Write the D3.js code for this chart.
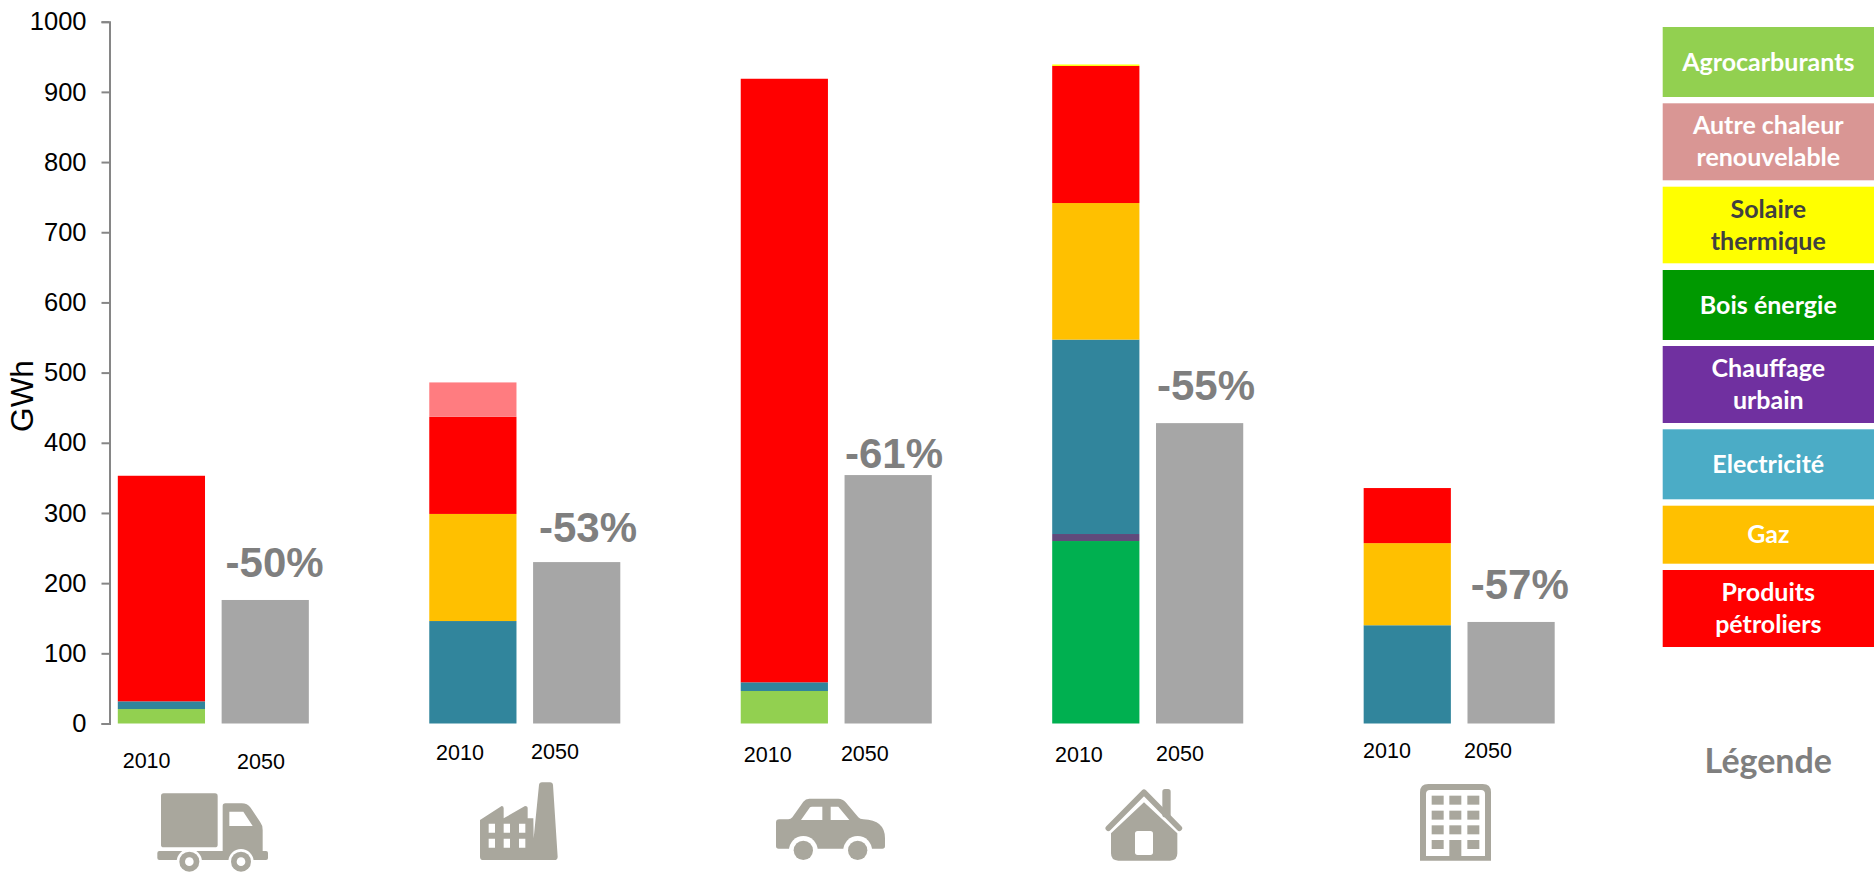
<!DOCTYPE html>
<html lang="fr">
<head>
<meta charset="utf-8">
<title>Consommation d'énergie par secteur, 2010 et 2050</title>
<script src="https://cdn.jsdelivr.net/npm/d3@7"></script>
<style>
  html, body { margin: 0; background: #fff; }
  svg { display: block; }
  text { font-family: "Liberation Sans", Arial, sans-serif; }
  .legend-label { font-family: Lato, sans-serif; font-weight: 700; }
</style>
</head>
<body>
<div id="grafico"></div>
<script>
const sectors = ['truck', 'factory', 'car', 'house', 'office'];

// 2010 values per energy, GWh, one entry per sector
const agrocarburants = [20.6, 0, 46.3, 0, 0];
const boisEnergie    = [0, 0, 0, 260, 0];
const chauffage      = [0, 0, 0, 10, 0];
const electricite    = [11, 146, 12.4, 277, 140];
const gaz            = [0, 152.6, 0, 194.6, 117];
const petrole        = [321.4, 138.4, 860, 195.4, 78.5];
const autreChaleur   = [0, 49, 0, 0, 0];
const solaire        = [0, 0, 0, 2, 0];

const total2050 = [176, 230, 354, 428, 144.7];
const reductions = ['-50%', '-53%', '-61%', '-55%', '-57%'];
const yearLabels = ['2010', '2050'];

const legendNames = [
  ['Agrocarburants'],
  ['Autre chaleur', 'renouvelable'],
  ['Solaire', 'thermique'],
  ['Bois énergie'],
  ['Chauffage', 'urbain'],
  ['Electricité'],
  ['Gaz'],
  ['Produits', 'pétroliers']
];
const legendFill = ['#92D050', '#D99694', '#FFFF00', '#009900', '#7030A0', '#4BACC6', '#FFC000', '#FF0000'];
const legendText = ['#fff', '#fff', '#404040', '#fff', '#fff', '#fff', '#fff', '#fff'];
const legendTop    = [27, 103.3, 186.7, 270, 346, 429.3, 505.7, 570];
const legendBottom = [97, 180.3, 263.3, 340, 423, 499.3, 563.7, 647];

// stacking order, bottom to top
const energies = ['agro', 'bois', 'chauffage', 'elec', 'gaz', 'petrole', 'autre', 'solaire'];
const energyValues = {
  agro: agrocarburants, bois: boisEnergie, chauffage: chauffage, elec: electricite,
  gaz: gaz, petrole: petrole, autre: autreChaleur, solaire: solaire
};
const energyColor = d3.scaleOrdinal()
  .domain(energies)
  .range(['#92D050', '#00B050', '#604A7B', '#31859C', '#FFC000', '#FF0000', '#FF7C80', '#FFFF00']);

// hand placed labels, they do not sit on a regular grid in the original
const yearPos = [
  [[146.6, 768], [261, 769]],
  [[460, 760], [555, 759]],
  [[767.7, 762], [864.8, 761]],
  [[1078.9, 762], [1180, 761]],
  [[1387, 758], [1488, 758]]
];
const reductionPos = [[274.6, 577], [588, 542], [894, 468], [1206, 400], [1519.8, 599]];

const width = 1874;
const height = 875;

const svg = d3.select("#grafico")
              .append("svg")
              .attr("width", width)
              .attr("height", height);

// each sector takes three slots: 2010, 2050 and an empty one
const slots = sectors.flatMap(s => [`${s}-2010`, `${s}-2050`, `${s}-gap`]).slice(0, -1);

const xScale = d3.scaleBand()
                 .domain(slots)
                 .range([109.5, 1563])
                 .paddingInner(0.16)
                 .paddingOuter(0.08);

const yScale = d3.scaleLinear()
                 .domain([0, 1000])
                 .range([723.5, 21.7]);

const yAxisCall = d3.axisLeft(yScale)
                    .tickValues(d3.range(0, 1001, 100))
                    .tickFormat(d3.format("d"))
                    .tickSize(8)
                    .tickPadding(15);

const yAxis = svg.append("g")
                 .attr("transform", "translate(109.5, 0)")
                 .call(yAxisCall);

yAxis.selectAll("path, line")
     .attr("stroke", "#868686")
     .attr("stroke-width", 2);

yAxis.selectAll("text")
     .attr("fill", "#000")
     .style("font-size", "25.5px");

svg.append("text")
   .attr("transform", "translate(33, 396) rotate(-90)")
   .attr("text-anchor", "middle")
   .style("font-size", "31.5px")
   .text("GWh");

const rows = sectors.map((s, i) => {
  const row = { sector: s };
  energies.forEach(e => { row[e] = energyValues[e][i]; });
  return row;
});

const stacked = d3.stack().keys(energies)(rows);

svg.append("g")
   .selectAll("g")
   .data(stacked)
   .join("g")
   .attr("fill", d => energyColor(d.key))
   .selectAll("rect")
   .data(d => d.filter(p => p[1] > p[0]))
   .join("rect")
   .attr("x", d => xScale(`${d.data.sector}-2010`))
   .attr("y", d => yScale(d[1]))
   .attr("width", xScale.bandwidth())
   .attr("height", d => yScale(d[0]) - yScale(d[1]));

svg.append("g")
   .selectAll("rect")
   .data(total2050)
   .join("rect")
   .attr("x", (d, i) => xScale(`${sectors[i]}-2050`))
   .attr("y", d => yScale(d))
   .attr("width", xScale.bandwidth())
   .attr("height", d => yScale(0) - yScale(d))
   .attr("fill", "#A6A6A6");

svg.append("g")
   .selectAll("text")
   .data(reductions)
   .join("text")
   .attr("x", (d, i) => reductionPos[i][0])
   .attr("y", (d, i) => reductionPos[i][1])
   .attr("text-anchor", "middle")
   .attr("fill", "#7F7F7F")
   .style("font-size", "42px")
   .style("font-weight", "bold")
   .text(d => d);

const yearGroups = svg.append("g")
                      .selectAll("g")
                      .data(yearPos)
                      .join("g");

yearGroups.selectAll("text")
          .data(d => d)
          .join("text")
          .attr("x", d => d[0])
          .attr("y", d => d[1])
          .attr("text-anchor", "middle")
          .style("font-size", "21.5px")
          .text((d, i) => yearLabels[i]);

// legend
const legend = svg.append("g")
                  .selectAll("g")
                  .data(legendNames)
                  .join("g");

legend.append("rect")
      .attr("x", 1662.7)
      .attr("y", (d, i) => legendTop[i])
      .attr("width", width - 1662.7)
      .attr("height", (d, i) => legendBottom[i] - legendTop[i])
      .attr("fill", (d, i) => legendFill[i]);

legend.each(function(lines, i) {
  const mid = (legendTop[i] + legendBottom[i]) / 2;
  d3.select(this)
    .selectAll("text")
    .data(lines)
    .join("text")
    .attr("class", "legend-label")
    .attr("x", 1768.3)
    .attr("y", (l, j) => mid + 8.5 + (j - (lines.length - 1) / 2) * 32)
    .attr("text-anchor", "middle")
    .attr("fill", legendText[i])
    .style("font-size", "25px")
    .text(l => l);
});

svg.append("text")
   .attr("class", "legend-label")
   .attr("x", 1768.3)
   .attr("y", 773)
   .attr("text-anchor", "middle")
   .attr("fill", "#7F7F7F")
   .style("font-size", "34px")
   .text("Légende");

// sector icons, drawn at 3x and scaled down
const iconGrey = "#A9A79D";

function iconGroup(x, y) {
  return svg.append("g")
            .attr("transform", `translate(${x}, ${y}) scale(${1 / 3})`)
            .attr("fill", iconGrey);
}

function wheel(g, cx, cy, clear, r, hub) {
  g.append("circle").attr("cx", cx).attr("cy", cy).attr("r", clear).attr("fill", "#fff");
  g.append("circle").attr("cx", cx).attr("cy", cy).attr("r", r);
  if (hub) g.append("circle").attr("cx", cx).attr("cy", cy).attr("r", hub).attr("fill", "#fff");
}

const truck = iconGroup(140, 770);
truck.append("rect").attr("x", 63).attr("y", 70).attr("width", 170).attr("height", 162).attr("rx", 8);
truck.append("path")
     .attr("fill-rule", "evenodd")
     .attr("d", "M248,108 Q248,100 256,100 L305,100 Q322,100 332,113 L360,155 Q368,165 368,180 L368,250 L248,250 Z"
              + " M268,125 L310,125 L338,168 L268,168 Z");
truck.append("rect").attr("x", 52).attr("y", 243).attr("width", 332).attr("height", 27).attr("rx", 6);
wheel(truck, 148, 275, 38, 30, 13);
wheel(truck, 303, 275, 38, 30, 13);

const factory = iconGroup(140, 770);
const factoryWindows = d3.cross([1046, 1091, 1137], [161, 206])
  .map(([x, y]) => `M${x},${y} h19 v27 h-19 Z`).join(" ");
factory.append("path")
       .attr("fill-rule", "evenodd")
       .attr("d", "M1020,150 L1085,108 Q1091,108 1091,115 L1091,145 L1155,108 Q1163,108 1163,115 L1163,145 L1180,145"
                + " L1181,205 L1197,45 Q1198,37 1206,37 L1230,37 Q1238,37 1239,45 L1253,260 Q1253,270 1243,270"
                + " L1030,270 Q1020,270 1020,260 Z " + factoryWindows);

const car = iconGroup(760, 770);
car.append("path")
   .attr("fill-rule", "evenodd")
   .attr("d", "M48,158 Q48,148 58,148 L85,148 Q92,148 97,142 L130,95 Q137,86 148,86 L235,86 Q248,86 257,97"
            + " L295,142 Q300,148 310,148 Q375,150 375,205 L375,228 Q375,236 367,236 L56,236 Q48,236 48,228 Z"
            + " M123,150 L150,112 Q152,110 156,110 L187,110 L187,150 Z M212,110 L235,110 L268,150 L212,150 Z");
wheel(car, 130, 241, 43, 29);
wheel(car, 293, 241, 43, 29);

const house = iconGroup(760, 770);
house.append("rect").attr("x", 1207).attr("y", 57).attr("width", 25).attr("height", 85).attr("rx", 8);
house.append("path")
     .attr("d", "M1045,175 L1152,67 L1258,175")
     .attr("fill", "none")
     .attr("stroke", iconGrey)
     .attr("stroke-width", 17)
     .attr("stroke-linecap", "round")
     .attr("stroke-linejoin", "round");
house.append("path")
     .attr("fill-rule", "evenodd")
     .attr("d", "M1053,190 L1152,97 L1252,190 L1252,250 Q1252,272 1230,272 L1075,272 Q1053,272 1053,250 Z"
              + " M1133,183 L1171,183 Q1179,183 1179,191 L1179,247 Q1179,255 1171,255 L1133,255 Q1125,255 1125,247 L1125,191 Q1125,183 1133,183 Z");

const office = iconGroup(1400, 770);
const officeWindows = d3.cross([95, 148, 202], [77, 122, 166, 210])
  .filter(([x, y]) => !(x === 148 && y === 210))
  .map(([x, y]) => `<rect x="${x}" y="${y}" width="36" height="27"></rect>`).join("");
office.append("path")
      .attr("fill-rule", "evenodd")
      .attr("d", "M60,272 L60,67 Q60,42 85,42 L248,42 Q273,42 273,67 L273,272 Z"
               + " M78,258 L255,258 L255,72 Q255,60 243,60 L90,60 Q78,60 78,72 Z");
office.append("g").html(officeWindows);
office.append("rect").attr("x", 148).attr("y", 210).attr("width", 36).attr("height", 50);
</script>
</body>
</html>
